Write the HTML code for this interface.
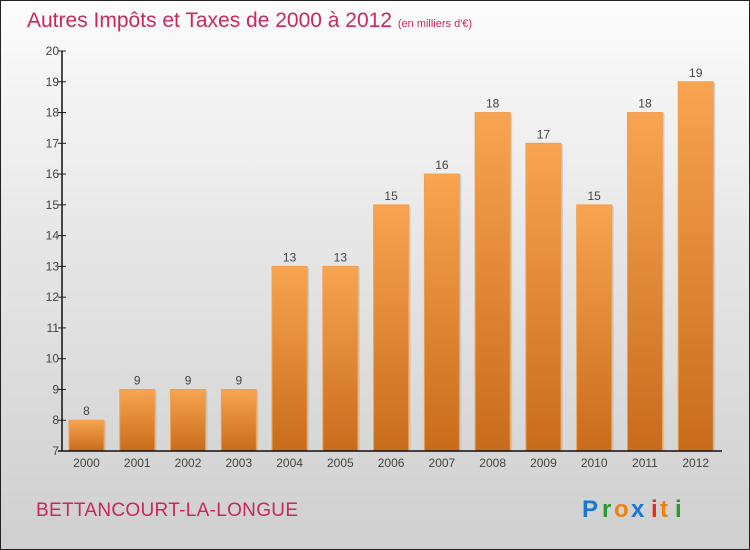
<!DOCTYPE html>
<html><head><meta charset="utf-8"><style>
body{margin:0}
#c{position:relative;width:748px;height:548px;border:1px solid #222;background:linear-gradient(#fcfcfc,#e6e6e6 45%,#cfcfcf);font-family:"Liberation Sans",sans-serif;overflow:hidden}
</style></head><body>
<div id="c">
<svg width="748" height="548" id="svg">
<defs><linearGradient id="g" x1="0" y1="0" x2="0" y2="1"><stop offset="0" stop-color="#f8a450"/><stop offset="1" stop-color="#c86c1c"/></linearGradient></defs>
<text x="26" y="26" font-size="21" fill="#c8285a">Autres Impôts et Taxes de 2000 à 2012 <tspan font-size="11">(en milliers d'€)</tspan></text>
<text x="35" y="515" font-size="19" fill="#c8285a" textLength="262">BETTANCOURT-LA-LONGUE</text>
<g font-size="24" font-weight="bold">
<text x="581" y="516" fill="#1a78d0">P</text><text x="601" y="516" fill="#2a9a30">r</text><text x="613" y="516" fill="#f08010">o</text><text x="630" y="516" fill="#1a78d0">x</text><text x="650" y="516" fill="#e03020">i</text><text x="659" y="516" fill="#f08010">t</text><text x="674" y="516" fill="#2a9a30">i</text></g>
<g id="plot"></g>
</svg></div>
<script>
const years=["2000","2001","2002","2003","2004","2005","2006","2007","2008","2009","2010","2011","2012"];
const values=[8,9,9,9,13,13,15,16,18,17,15,18,19];
const yTicks=[7,8,9,10,11,12,13,14,15,16,17,18,19,20];
const NS="http://www.w3.org/2000/svg";
const g=document.getElementById('plot');
const x0=61,x1=721,yMin=7,yMax=20,yb=450,yt=50;
const band=(x1-x0)/years.length;
const y=v=>yb-(v-yMin)/(yMax-yMin)*(yb-yt);
function mk(t,a){const e=document.createElementNS(NS,t);for(const k in a)e.setAttribute(k,a[k]);g.appendChild(e);return e;}
yTicks.forEach(v=>{
 const l=mk('line',{x1:x0-4,x2:x0+4,y1:y(v),y2:y(v),stroke:'#222'});
 
 
 const t=mk('text',{x:x0-3,y:y(v)+4,'font-size':12,fill:'#444','text-anchor':'end'});t.textContent=v;
 
 
});
years.forEach((yr,i)=>{
 const bx=x0+i*band+7,w=35;
 const s=mk('rect',{x:bx+2,y:y(values[i])+1,width:w,height:yb-y(values[i])-1,fill:'#bbb',opacity:0.6});
 
 
 const r=mk('rect',{x:bx,y:y(values[i]),width:w,height:yb-y(values[i]),fill:'url(#g)',stroke:'#f0a050','stroke-width':1});
 
 
 const vt=mk('text',{x:bx+w/2,y:y(values[i])-5,'font-size':12,fill:'#444','text-anchor':'middle'});vt.textContent=values[i];
 
 
 const xt=mk('text',{x:bx+w/2,y:466,'font-size':12,fill:'#444','text-anchor':'middle'});xt.textContent=yr;
 
 
});
const ya=mk('line',{x1:x0,x2:x0,y1:yt,y2:yb,stroke:'#111','stroke-width':1.5});


const xa=mk('line',{x1:x0-4,x2:x1,y1:yb,y2:yb,stroke:'#111','stroke-width':1.5});


</script>
</body></html>
